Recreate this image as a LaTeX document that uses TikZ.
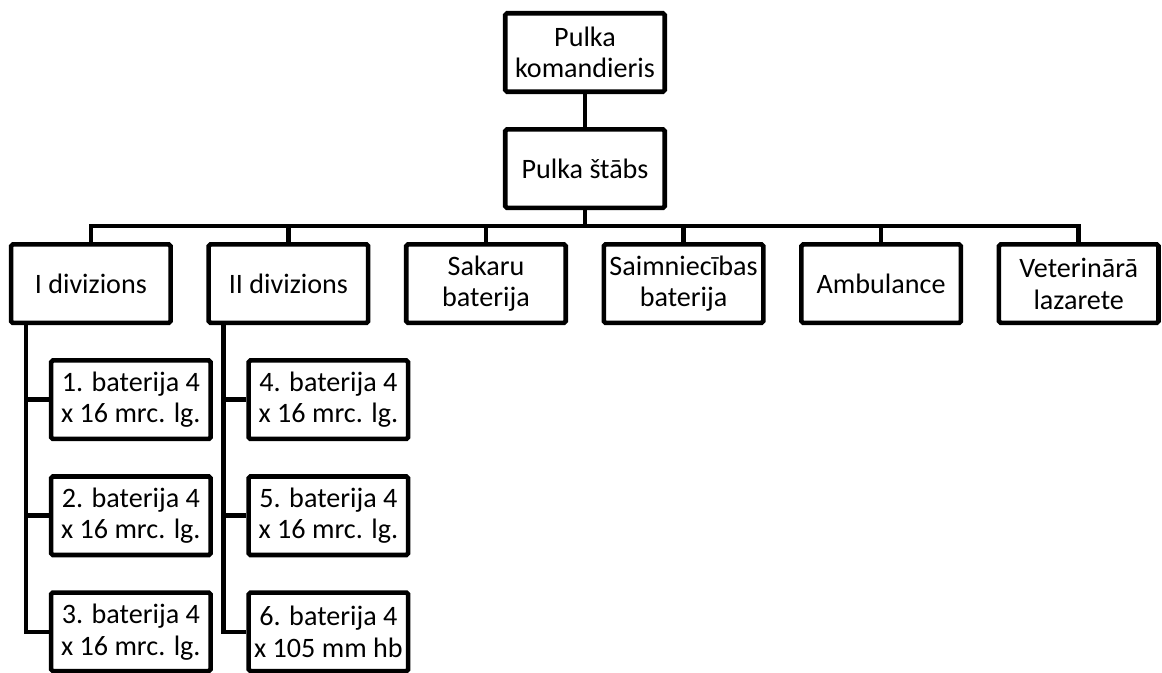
\documentclass[tikz,border=0pt]{standalone}
\usepackage{fontspec}
\setmainfont{Carlito}
\usetikzlibrary{positioning}

\begin{document}
\begin{tikzpicture}[node distance=0.66cm and 0.67cm, box/.style={rectangle, draw=black, line width=2.6pt, rounded corners=1pt, minimum width=3.19cm, minimum height=1.57cm, align=center, inner sep=1pt, font=\fontsize{16}{18}\selectfont}, link/.style={draw=black, line width=2.6pt}]
    
    \useasboundingbox (-11.7,1.05) rectangle (11.54,-12.41);
    
    %Nodes
    \node[box](komandieris) at (0,0){Pulka\\komandieris};
    \node[box](stabs)[below=of komandieris]{Pulka štābs};
    \node[box](sakaru)[below=0.64cm of stabs, xshift=-1.98cm]{Sakaru\\baterija};
    \node[box](saimn)[right=of sakaru]{Saimniecības\\baterija};
    \node[box](amb)[right=of saimn]{Ambulance};
    \node[box](vet)[right=of amb]{Veterinārā\\lazarete};
    \node[box](iidiv)[left=of sakaru]{II divizions};
    \node[box](idiv)[left=of iidiv]{I divizions};
    \node[box](bat1)[below=of idiv, xshift=0.8cm]{1. baterija 4\\x 16 mrc. lg.};
    \node[box](bat2)[below=of bat1]{2. baterija 4\\x 16 mrc. lg.};
    \node[box](bat3)[below=of bat2]{3. baterija 4\\x 16 mrc. lg.};
    \node[box](bat4)[below=of iidiv, xshift=0.8cm]{4. baterija 4\\x 16 mrc. lg.};
    \node[box](bat5)[below=of bat4]{5. baterija 4\\x 16 mrc. lg.};
    \node[box](bat6)[below=of bat5]{6. baterija 4\\x 105 mm hb};
    
    %Lines
    \draw[link] (komandieris.south) -- (stabs.north);
    \foreach \n in {idiv,iidiv,sakaru,saimn,amb,vet}
        \draw[link] (stabs.south) -- ++(0,-0.32) -| (\n.north);
    \foreach \n in {bat1,bat2,bat3}
        \draw[link] ([xshift=0.34cm]idiv.south west) |- (\n.west);
    \foreach \n in {bat4,bat5,bat6}
        \draw[link] ([xshift=0.34cm]iidiv.south west) |- (\n.west);
    
\end{tikzpicture}
\end{document}
